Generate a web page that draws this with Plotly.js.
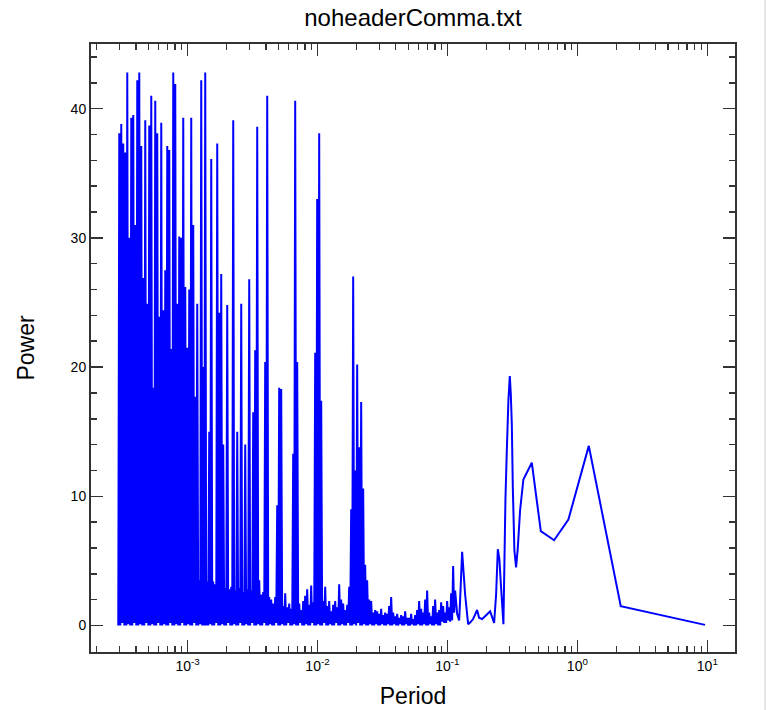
<!DOCTYPE html>
<html>
<head>
<meta charset="utf-8">
<script src="https://cdn.plot.ly/plotly-3.0.1.min.js"></script>
<style>
html,body{margin:0;padding:0;background:#fff;}
#chart{width:767px;height:710px;}
</style>
</head>
<body>
<div id="chart"></div>
<script>
// ---- data (period, power) ----
const periodA = [2.930e-4,2.983e-4,3.036e-4,3.090e-4,3.146e-4,3.202e-4,3.259e-4,3.317e-4,3.376e-4,3.437e-4,3.498e-4,3.561e-4,3.624e-4,3.689e-4,3.755e-4,3.822e-4,3.890e-4,3.960e-4,4.031e-4,4.103e-4,4.176e-4,4.251e-4,4.327e-4,4.404e-4,4.483e-4,4.563e-4,4.644e-4,4.727e-4,4.812e-4,4.898e-4,4.985e-4,5.074e-4,5.165e-4,5.257e-4,5.351e-4,5.447e-4,5.544e-4,5.643e-4,5.744e-4,5.847e-4,5.951e-4,6.058e-4,6.166e-4,6.276e-4,6.388e-4,6.502e-4,6.619e-4,6.737e-4,6.857e-4,6.980e-4,7.105e-4,7.232e-4,7.361e-4,7.492e-4,7.626e-4,7.763e-4,7.901e-4,8.042e-4,8.186e-4,8.332e-4,8.481e-4,8.633e-4,8.787e-4,8.944e-4,9.104e-4,9.267e-4,9.432e-4,9.601e-4,9.772e-4,9.947e-4,1.0125e-3,1.0306e-3,1.0490e-3,1.0677e-3,1.0868e-3,1.1062e-3,1.1260e-3,1.1461e-3,1.1666e-3,1.1874e-3,1.2086e-3,1.2302e-3,1.2522e-3,1.2746e-3,1.2974e-3,1.3206e-3,1.3442e-3,1.3682e-3];
const powerA = [0,38.1,0,38.8,0.2,37.3,0,36.6,0,42.8,
0.1,30.0,0,39.3,0,39.5,0.2,31.0,0,42.2,
0,42.8,0.1,37.1,0,26.9,0,39.1,0.2,24.9,
0,38.7,0,41.0,0.1,18.4,0,40.6,0,38.1,
0.2,23.9,0,38.9,0,24.4,0.1,27.5,0,37.1,
0,36.8,0.2,21.4,0,42.8,0,41.9,0.1,24.9,
0,30.1,0,30.0,0.2,39.3,0,26.2,0,21.5,
0.1,26.0,0,39.3,0,31.0,0.2,17.7,0,24.9,
0,3.5,0.1,42.2,0,20.0,0,42.8];

const periodB = [1.3926e-3,1.4175e-3,1.4428e-3,1.4686e-3,1.4949e-3,1.5216e-3,1.5488e-3,1.5764e-3,1.6046e-3,1.6333e-3,1.6625e-3,
1.6922e-3,1.7224e-3,1.7532e-3,1.7846e-3,1.8165e-3,1.8489e-3,1.8820e-3,1.9156e-3,1.9498e-3,1.9847e-3,
2.0202e-3,2.0563e-3,2.0930e-3,2.1304e-3,2.1685e-3,2.2073e-3,2.2467e-3,2.2869e-3,2.3277e-3,2.3693e-3,
2.4116e-3,2.4547e-3,2.4986e-3,2.5432e-3,2.5887e-3,2.6349e-3,2.6820e-3,2.7300e-3,2.7787e-3,2.8284e-3,
2.879e-3,2.930e-3,2.983e-3,3.036e-3,3.090e-3,3.146e-3,3.202e-3,3.259e-3,3.317e-3,3.376e-3,
3.437e-3,3.498e-3,3.561e-3,3.624e-3,3.689e-3,3.755e-3,3.822e-3,3.890e-3,3.960e-3,4.031e-3,
4.103e-3,4.176e-3,4.251e-3,4.327e-3,4.404e-3,4.483e-3,4.563e-3,4.644e-3,4.727e-3,4.812e-3,
4.898e-3,4.985e-3,5.074e-3,5.165e-3,5.257e-3,5.351e-3,5.447e-3,5.544e-3,5.643e-3,5.744e-3,
5.847e-3,5.951e-3,6.058e-3,6.166e-3,6.276e-3,6.388e-3,6.502e-3,6.619e-3,6.737e-3,6.857e-3,
6.980e-3,7.105e-3,7.232e-3,7.361e-3,7.492e-3,7.626e-3,7.763e-3,7.901e-3,8.042e-3,8.186e-3,
8.332e-3,8.481e-3,8.633e-3,8.787e-3,8.944e-3,9.104e-3,9.267e-3,9.432e-3,9.601e-3,9.772e-3,
9.947e-3,1.0125e-2,1.0306e-2,1.0490e-2,1.0677e-2,1.0868e-2,1.1062e-2,1.1260e-2,1.1461e-2,1.1666e-2,
1.1874e-2,1.2086e-2,1.2302e-2,1.2522e-2,1.2746e-2,1.2974e-2,1.3206e-2,1.3442e-2,1.3682e-2,1.3926e-2,
1.4175e-2,1.4428e-2,1.4686e-2,1.4949e-2,1.5216e-2,1.5488e-2,1.5764e-2,1.6046e-2,1.6333e-2,1.6625e-2,
1.6922e-2,1.7224e-2,1.7532e-2,1.7846e-2];
const powerB = [0,3.4,0,15.0,0.1,36.1,0,3.4,0,3.2,
0.2,37.3,0,24.2,0,27.2,0.1,14.0,0,2.9,
0,24.8,0.2,2.8,0,3.0,0,39.1,0.1,2.7,
0,15.0,0,2.9,0.2,24.9,0,2.6,0,14.0,
0.1,2.8,0,26.8,0,2.7,0.2,16.5,0,21.3,
0,38.6,0.1,3.5,0,2.4,0,2.6,0.2,20.4,
0,41.0,0,2.2,0.1,2.0,0,1.7,0,2.2,
0.2,9.3,0,18.4,0,18.3,0.1,1.5,0,2.5,
0,1.4,0.2,1.7,0,1.3,0,13.3,0.1,40.6,
0,20.4,0,1.7,0.2,1.2,0,1.9,0,2.3,
0.1,2.8,0,1.6,0,3.1,0.2,1.8,0,21.1,
0,33.0,0.1,38.1,0,17.4,0,1.9,0.2,3.0,
0,1.5,0,1.9,0.1,1.1,0,1.6,0,1.9,
0.2,1.4,0,3.2,0,2.0,0.1,1.7,0,1.2,
0,1.6,0.2,3.0,0];

const periodC = [1.8165e-2,1.8489e-2,1.8820e-2,1.9156e-2,1.9498e-2,1.9847e-2,
2.0202e-2,2.0563e-2,2.0930e-2,2.1304e-2,2.1685e-2,2.2073e-2,2.2467e-2,2.2869e-2,2.3277e-2,2.3693e-2,
2.4116e-2,2.4547e-2,2.4986e-2,2.5432e-2,2.5887e-2,2.6349e-2,2.6820e-2,2.7300e-2,2.7787e-2,2.8284e-2,
2.879e-2,2.930e-2,2.983e-2,3.036e-2,3.090e-2,3.146e-2,3.202e-2,3.259e-2,3.317e-2,3.376e-2,
3.437e-2,3.498e-2,3.561e-2,3.624e-2,3.689e-2,3.755e-2,3.822e-2,3.890e-2,3.960e-2,4.031e-2,
4.103e-2,4.176e-2,4.251e-2,4.327e-2,4.404e-2,4.483e-2,4.563e-2,4.644e-2,4.727e-2,4.812e-2,
4.898e-2,4.985e-2,5.074e-2,5.165e-2,5.257e-2,5.351e-2,5.447e-2,5.544e-2,5.643e-2,5.744e-2,
5.847e-2,5.951e-2,6.058e-2,6.166e-2,6.276e-2,6.388e-2,6.502e-2,6.619e-2,6.737e-2,6.857e-2,
6.980e-2,7.105e-2,7.232e-2,7.361e-2,7.492e-2,7.626e-2,7.763e-2,7.901e-2,8.042e-2,8.186e-2,
8.332e-2,8.481e-2,8.633e-2,8.787e-2,
8.944e-2,9.104e-2,9.267e-2,9.432e-2,9.601e-2,9.772e-2,9.947e-2,0.10125,0.10306,0.10490,0.10677,0.10868,0.11062,0.11260,0.11461,
0.11874,0.12302,0.12522,0.12974,0.13682,0.14428];
const powerC = [9.0,0,27.0,0.1,12.0,0,20.2,0.2,13.8,0,
17.3,0,10.6,0.1,4.7,0,3.5,0,2.0,0.1,
1.9,0,1.0,0,1.2,0.1,1.1,0,0.9,0,
1.3,0.1,0.8,0,1.0,0,0.9,0.1,1.5,0,
2.2,0,1.0,0.1,0.7,0,0.9,0,0.6,0.1,
0.8,0,0.7,0,1.1,0.1,0.6,0,0.6,0,
0.9,0.1,0.5,0,0.8,0,1.2,0.1,1.9,0,
1.3,0,1.0,0.1,2.0,0,2.7,0,1.0,0.1,
0.7,0,1.5,0,2.0,0.1,1.0,0,1.2,0,
1.8,0.3,1.5,0.2,1.0,0.2,1.9,0.4,1.4,0.3,2.5,0.4,4.6,1.0,2.7,
0.9,0.4,2.0,5.7,2.4,0.1];

const periodD = [0.1495,0.1576,0.1692,0.1753,0.1849,0.1985,0.2130,0.2287,0.2369,0.2442,0.2512,0.2589,0.2697,0.2794,0.2863,0.2945,0.3020,0.3074,0.3129,0.3185,0.3276,0.3376,0.3479,0.3623,0.3842,0.4459,0.5231,0.6618,0.8527,1.224,2.157,9.60];
const powerD = [0.23,0.5,1.2,0.6,0.5,0.8,1.1,0.2,2.4,5.9,5.1,2.9,0.1,9.7,13.5,17.4,19.3,17.9,15.6,10.7,5.8,4.5,6.0,8.9,11.3,12.6,7.3,6.6,8.2,13.9,1.5,0.05];

const xTickVals = [0.001,0.01,0.1,1,10];
const xTickText = ['10<sup>-3</sup>','10<sup>-2</sup>','10<sup>-1</sup>','10<sup>0</sup>','10<sup>1</sup>'];
const yTickVals = [0,10,20,30,40];

const titleText = 'noheaderComma.txt';
const xTitle = 'Period';
const yTitle = 'Power';

// ---- build ----
const period = [].concat(periodA, periodB, periodC, periodD);
const power = [].concat(powerA, powerB, powerC, powerD);

const minorX = [];
for (let e = -4; e <= 1; e++) {
  for (let k = 2; k <= 9; k++) minorX.push(k * Math.pow(10, e));
}

const axisColor = '#333333';
const fontFam = '"Liberation Sans", Arial, sans-serif';

const trace = {
  x: period, y: power, type: 'scatter', mode: 'lines',
  line: {color: '#0000ff', width: 2, simplify: false},
  hoverinfo: 'skip', showlegend: false
};

const layout = {
  width: 767, height: 710,
  margin: {l: 91, r: 32, t: 44, b: 58},
  paper_bgcolor: '#ffffff', plot_bgcolor: '#ffffff',
  font: {family: fontFam, color: '#000'},
  title: {text: titleText, font: {size: 24, family: fontFam, color: '#000'},
          x: 0.5, xref: 'paper', xanchor: 'center', y: 0.975, yref: 'container', yanchor: 'middle'},
  xaxis: {
    type: 'log', range: [-3.743, 1.213],
    tickmode: 'array', tickvals: xTickVals, ticktext: xTickText,
    ticks: 'inside', ticklen: 12, tickwidth: 1.5, tickcolor: axisColor,
    showline: true, linecolor: axisColor, linewidth: 2, mirror: 'ticks',
    showgrid: false, zeroline: false,
    tickfont: {size: 14, family: fontFam, color: '#000'},
    minor: {tickmode: 'array', tickvals: minorX, ticks: 'inside', ticklen: 6, tickwidth: 1.5, tickcolor: axisColor, showgrid: false},
    title: {text: xTitle, font: {size: 23, family: fontFam, color: '#000'}, standoff: 15}
  },
  yaxis: {
    range: [-2.05, 45],
    tickmode: 'array', tickvals: yTickVals,
    ticks: 'inside', ticklen: 12, tickwidth: 1.5, tickcolor: axisColor,
    showline: true, linecolor: axisColor, linewidth: 2, mirror: 'ticks',
    showgrid: false, zeroline: false,
    tickfont: {size: 14, family: fontFam, color: '#000'},
    minor: {tickmode: 'linear', tick0: 0, dtick: 2, ticks: 'inside', ticklen: 6, tickwidth: 1.5, tickcolor: axisColor, showgrid: false},
    title: {text: yTitle, font: {size: 23, family: fontFam, color: '#000'}, standoff: 30}
  },
  shapes: [{type: 'line', xref: 'paper', yref: 'paper', x0: 1.0466, x1: 1.0466, y0: -0.0954, y1: 1.0724,
            line: {color: '#cccccc', width: 1}}]
};

Plotly.newPlot('chart', [trace], layout, {staticPlot: true, displayModeBar: false});
</script>
</body>
</html>
